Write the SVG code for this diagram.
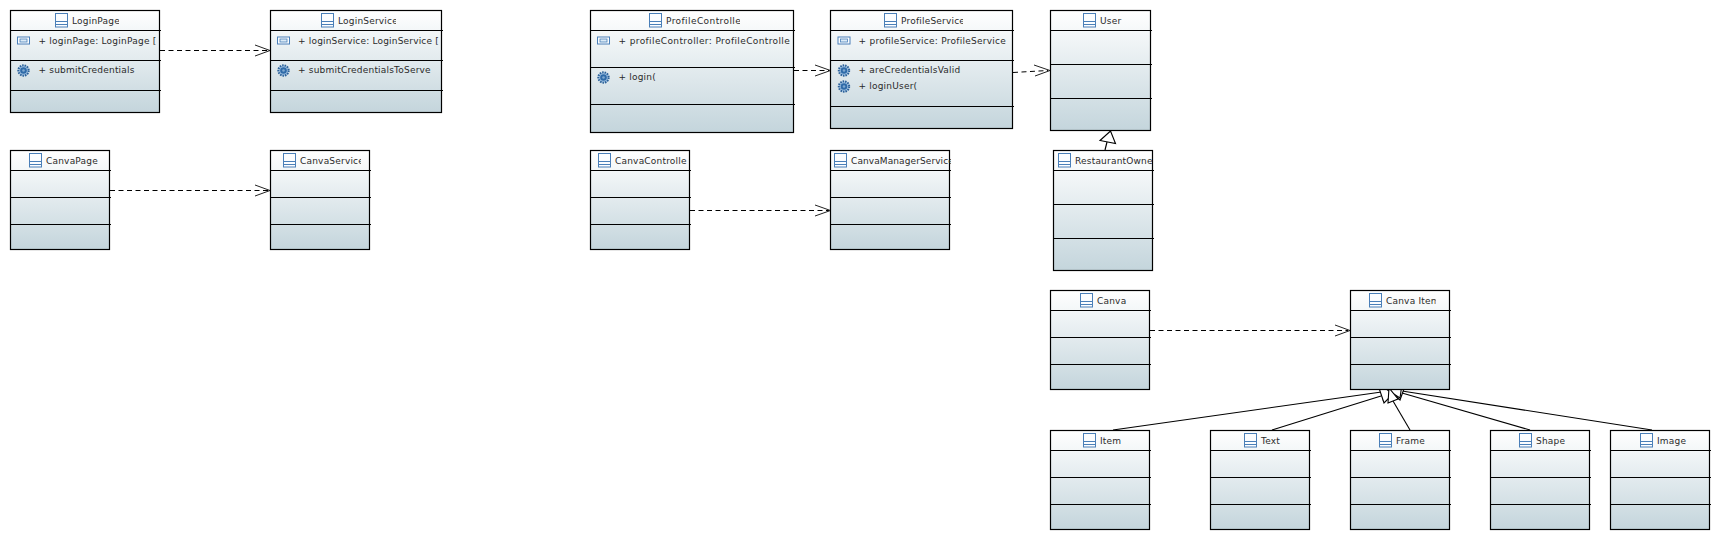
<svg xmlns="http://www.w3.org/2000/svg" width="1720" height="540" viewBox="0 0 1720 540">
<style>
.box{stroke:#000;stroke-width:1.2}
.sep{stroke:#000;stroke-width:1.1;fill:none}
.t{font-family:"DejaVu Sans",sans-serif;font-size:9px;fill:#2a2a2a;letter-spacing:.2px}
.dash{stroke:#000;stroke-width:1;stroke-dasharray:5 3.500;fill:none}
.open{stroke:#222;stroke-width:1;fill:none}
.sol{stroke:#000;stroke-width:1.100;fill:none}
.tri{stroke:#000;stroke-width:1.100;fill:#fff;stroke-linejoin:miter}
.ic{stroke:#4a7fb8;stroke-width:1;fill:#fbfdff}
.icl{stroke:#4a7fb8;stroke-width:1;fill:none}
</style>
<defs>
<linearGradient id="g" x1="0" y1="0" x2="0" y2="1"><stop offset="0" stop-color="#fff"/><stop offset="1" stop-color="#c4d5dc"/></linearGradient>
<g id="cls"><rect x=".5" y=".5" width="12" height="13.500" class="ic"/><path d="M.5 8.500H12.500M.5 11.500H12.500" class="icl"/></g>
<g id="att"><rect x=".5" y=".5" width="12" height="7" class="ic"/><rect x="3" y="2.500" width="7" height="3" fill="#dcebf7" stroke="#4a7fb8" stroke-width=".8"/></g>
<g id="op"><circle cx="6.500" cy="6.500" r="5.200" fill="#9dbfe0" stroke="#2a6099" stroke-width="2" stroke-dasharray="1.500 1"/><circle cx="6.500" cy="6.500" r="3.300" fill="#2f6ba8"/><circle cx="6.500" cy="6.500" r="1.300" fill="#7fa8d0"/></g>
<clipPath id="c1"><rect x="70" y="12" width="49" height="16"/></clipPath>
<clipPath id="c2"><rect x="336" y="12" width="60" height="16"/></clipPath>
<clipPath id="c3"><rect x="664" y="12" width="76" height="16"/></clipPath>
<clipPath id="c4"><rect x="899" y="12" width="64" height="16"/></clipPath>
<clipPath id="c5"><rect x="298" y="152" width="63" height="16"/></clipPath>
<clipPath id="c6"><rect x="849" y="152" width="102" height="16"/></clipPath>
<clipPath id="c7"><rect x="1384" y="292" width="51.700" height="16"/></clipPath>
<clipPath id="c8"><rect x="616" y="70" width="40" height="16"/></clipPath>
<clipPath id="c9"><rect x="856" y="80" width="61" height="16"/></clipPath>
</defs>
<g id="connectors">
<path class="dash" d="M160 50.500H268"/><path class="open" d="M255 45L270 50.500L255 56"/>
<path class="dash" d="M110 190.500H268"/><path class="open" d="M255 185L270 190.500L255 196"/>
<path class="dash" d="M794 70.500H829"/><path class="open" d="M815 65L830.500 70.500L815 76"/>
<path class="dash" d="M1013 72.500L1048 70.500"/><path class="open" d="M1034 65L1050 70.500L1035 76"/>
<path class="dash" d="M690 210.500H829"/><path class="open" d="M815 205L830.500 210.500L815 216"/>
<path class="dash" d="M1150 330.500H1348"/><path class="open" d="M1335 325L1350 330.500L1335 336"/>
<path class="sol" d="M1105 150L1107 142"/><path class="tri" d="M1110.500 131L1115.500 143.500L1100 140.500Z"/>
<path class="sol" d="M1113 430L1381.500 392"/><path class="sol" d="M1272 430L1381 396"/><path class="sol" d="M1410 430L1393 401"/><path class="sol" d="M1530 430L1402 393"/><path class="sol" d="M1652 430L1402 391"/>
<path class="tri" d="M1380 384L1383.500 401L1397 390Z"/><path class="tri" d="M1379 388L1384 403L1396 391Z"/><path class="tri" d="M1405 386L1400 400L1387 389Z"/><path class="tri" d="M1402 384L1400 398L1386 389Z"/><path class="tri" d="M1388 403L1398 399L1389 388Z"/>
</g>
<g id="LoginPage"><rect class="box" x="10.500" y="10.500" width="149" height="102" fill="url(#g)"/><path class="sep" d="M10.500 30.500H161M10.500 60.500H161M10.500 90.500H161"/><use href="#cls" x="55" y="13"/><text class="t" x="72" y="24" clip-path="url(#c1)">LoginPage</text><use href="#att" x="17" y="36.500"/><text class="t" x="38.500" y="43.500" textLength="118">+ loginPage: LoginPage [</text><use href="#op" x="17" y="64"/><text class="t" x="38.500" y="73">+ submitCredentials</text></g>
<g id="LoginService"><rect class="box" x="270.500" y="10.500" width="171" height="102" fill="url(#g)"/><path class="sep" d="M270.500 30.500H443M270.500 60.500H443M270.500 90.500H443"/><use href="#cls" x="321" y="13"/><text class="t" x="338" y="24" clip-path="url(#c2)">LoginService</text><use href="#att" x="277" y="36.500"/><text class="t" x="298" y="43.500" textLength="141">+ loginService: LoginService [</text><use href="#op" x="277" y="64"/><text class="t" x="298" y="73">+ submitCredentialsToServe</text></g>
<g id="ProfileController"><rect class="box" x="590.500" y="10.500" width="203" height="122" fill="url(#g)"/><path class="sep" d="M590.500 30.500H795M590.500 67.500H795M590.500 104.500H795"/><use href="#cls" x="649" y="13"/><text class="t" x="666" y="24" clip-path="url(#c3)" textLength="75">ProfileControlle</text><use href="#att" x="597" y="36.500"/><text class="t" x="618.500" y="43.500" textLength="171.500">+ profileController: ProfileControlle</text><use href="#op" x="597" y="71"/><text class="t" x="618.500" y="80" clip-path="url(#c8)">+ login()</text></g>
<g id="ProfileService"><rect class="box" x="830.500" y="10.500" width="182" height="118" fill="url(#g)"/><path class="sep" d="M830.500 30.500H1014M830.500 60.500H1014M830.500 106.500H1014"/><use href="#cls" x="884" y="13"/><text class="t" x="901" y="24" clip-path="url(#c4)">ProfileService</text><use href="#att" x="837.500" y="36.500"/><text class="t" x="858.500" y="43.500" textLength="147.500">+ profileService: ProfileService</text><use href="#op" x="837.500" y="64"/><text class="t" x="858.500" y="73">+ areCredentialsValid</text><use href="#op" x="837.500" y="80"/><text class="t" x="858.500" y="89" clip-path="url(#c9)">+ loginUser()</text></g>
<g id="User"><rect class="box" x="1050.500" y="10.500" width="100" height="120" fill="url(#g)"/><path class="sep" d="M1050.500 30.500H1152M1050.500 64.500H1152M1050.500 98.500H1152"/><use href="#cls" x="1083" y="13"/><text class="t" x="1100" y="24">User</text></g>
<g id="RestaurantOwner"><rect class="box" x="1053.500" y="150.500" width="99" height="120" fill="url(#g)"/><path class="sep" d="M1053.500 170.500H1154M1053.500 204.500H1154M1053.500 238.500H1154"/><use href="#cls" x="1058" y="153"/><text class="t" x="1075" y="164">RestaurantOwne</text></g>
<g id="CanvaPage"><rect class="box" x="10.500" y="150.500" width="99" height="99" fill="url(#g)"/><path class="sep" d="M10.500 170.500H111M10.500 197.500H111M10.500 224.500H111"/><use href="#cls" x="29" y="153"/><text class="t" x="46" y="164">CanvaPage</text></g>
<g id="CanvaService"><rect class="box" x="270.500" y="150.500" width="99" height="99" fill="url(#g)"/><path class="sep" d="M270.500 170.500H371M270.500 197.500H371M270.500 224.500H371"/><use href="#cls" x="283" y="153"/><text class="t" x="300" y="164" clip-path="url(#c5)">CanvaService</text></g>
<g id="CanvaController"><rect class="box" x="590.500" y="150.500" width="99" height="99" fill="url(#g)"/><path class="sep" d="M590.500 170.500H691M590.500 197.500H691M590.500 224.500H691"/><use href="#cls" x="598" y="153"/><text class="t" x="615" y="164">CanvaControlle</text></g>
<g id="CanvaManagerService"><rect class="box" x="830.500" y="150.500" width="119" height="99" fill="url(#g)"/><path class="sep" d="M830.500 170.500H951M830.500 197.500H951M830.500 224.500H951"/><use href="#cls" x="834" y="153"/><text class="t" x="851" y="164" clip-path="url(#c6)" textLength="103">CanvaManagerService</text></g>
<g id="Canva"><rect class="box" x="1050.500" y="290.500" width="99" height="99" fill="url(#g)"/><path class="sep" d="M1050.500 310.500H1151M1050.500 337.500H1151M1050.500 364.500H1151"/><use href="#cls" x="1080" y="293"/><text class="t" x="1097" y="304">Canva</text></g>
<g id="CanvaItem"><rect class="box" x="1350.500" y="290.500" width="99" height="99" fill="url(#g)"/><path class="sep" d="M1350.500 310.500H1451M1350.500 337.500H1451M1350.500 364.500H1451"/><use href="#cls" x="1369" y="293"/><text class="t" x="1386" y="304" clip-path="url(#c7)">Canva Item</text></g>
<g id="Item"><rect class="box" x="1050.500" y="430.500" width="99" height="99" fill="url(#g)"/><path class="sep" d="M1050.500 450.500H1151M1050.500 477.500H1151M1050.500 504.500H1151"/><use href="#cls" x="1083" y="433"/><text class="t" x="1100" y="444">Item</text></g>
<g id="Text"><rect class="box" x="1210.500" y="430.500" width="99" height="99" fill="url(#g)"/><path class="sep" d="M1210.500 450.500H1311M1210.500 477.500H1311M1210.500 504.500H1311"/><use href="#cls" x="1244" y="433"/><text class="t" x="1261" y="444">Text</text></g>
<g id="Frame"><rect class="box" x="1350.500" y="430.500" width="99" height="99" fill="url(#g)"/><path class="sep" d="M1350.500 450.500H1451M1350.500 477.500H1451M1350.500 504.500H1451"/><use href="#cls" x="1379" y="433"/><text class="t" x="1396" y="444">Frame</text></g>
<g id="Shape"><rect class="box" x="1490.500" y="430.500" width="99" height="99" fill="url(#g)"/><path class="sep" d="M1490.500 450.500H1591M1490.500 477.500H1591M1490.500 504.500H1591"/><use href="#cls" x="1519" y="433"/><text class="t" x="1536" y="444">Shape</text></g>
<g id="Image"><rect class="box" x="1610.500" y="430.500" width="99" height="99" fill="url(#g)"/><path class="sep" d="M1610.500 450.500H1711M1610.500 477.500H1711M1610.500 504.500H1711"/><use href="#cls" x="1640" y="433"/><text class="t" x="1657" y="444">Image</text></g>
</svg>
